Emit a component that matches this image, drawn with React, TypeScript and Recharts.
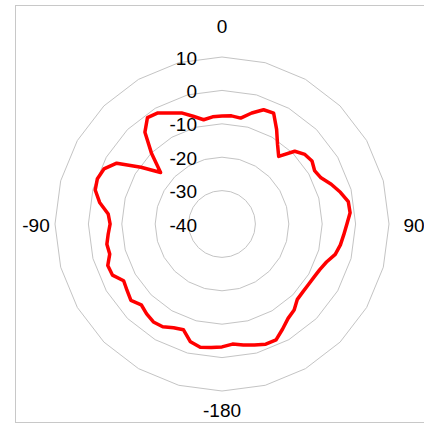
import React from 'react';
import { RadarChart, Radar, PolarGrid, PolarAngleAxis, PolarRadiusAxis } from 'recharts';

// measurement angles, clockwise from the top (deg)
const angles = [
  0, 5, 10, 15, 20, 25, 30, 35, 40, 45, 50, 55, 60, 65, 70, 75, 80, 85,
  90, 95, 100, 105, 110, 115, 120, 125, 130, 135, 140, 145, 150, 155, 160, 165, 170, 175,
  -180, -175, -170, -165, -160, -155, -150, -145, -140, -135, -130, -125, -120, -115, -110, -105, -100, -95,
  -90, -85, -80, -75, -70, -65, -60, -55, -50, -45, -40, -35, -30, -25, -20, -15, -10, -5,
];

// gain (dB), same order as angles
const gain = [
  -7.7, -7.5, -7.8, -5.6, -3.6, -3.4, -7.3, -11.0, -13.6, -9.2, -7.6, -7.1, -8.0, -7.3, -5.2, -3.3, -1.6, -1.5,
  -2.6, -3.4, -4.0, -4.9, -6.7, -7.7, -8.2, -8.4, -8.4, -8.1, -6.4, -5.5, -3.7, -1.7, -1.7, -2.5, -3.2, -3.9,
  -3.2, -2.9, -2.5, -3.5, -6.3, -5.7, -4.5, -4.2, -4.9, -5.8, -4.4, -5.3, -6.0, -3.8, -3.6, -5.2, -5.0, -5.8,
  -6.5, -5.8, -2.8, -0.7, -0.3, -1.0, -3.6, -10.4, -16.0, -10.2, -4.1, -1.1, -1.6, -3.3, -4.6, -6.6, -8.3, -7.8,
];

const radiusTicks = [-40, -30, -20, -10, 0, 10];
const angleLabels = [0, 90, -180, -90];

const data = angles.map((a, i) => ({ angle: a, gain: gain[i] }));

const CX = 222;
const CY = 224;
const FONT = '"Liberation Sans", Arial, sans-serif';
const FONT_SIZE = 19;

// 24-sided rings like the original
const gridAngles = Array.from({ length: 24 }, (_, i) => i * 15);

const AngleTick = (props: any) => {
  const { x, y, payload } = props;
  const v = payload.value;
  if (!angleLabels.includes(v)) return null;
  const dx = x - CX;
  const dy = y - CY;
  const d = Math.sqrt(dx * dx + dy * dy) || 1;
  // label distance from centre differs a bit per side in the original
  const dist = v === 0 ? 199 : v === -180 ? 185 : v === 90 ? 192 : 186;
  return (
    <text
      x={CX + (dx / d) * dist}
      y={CY + (dy / d) * dist + 1}
      textAnchor="middle"
      dominantBaseline="central"
      fontFamily={FONT}
      fontSize={FONT_SIZE}
      fill="#000"
    >
      {v}
    </text>
  );
};

const RadiusTick = (props: any) => {
  const { x, y, payload } = props;
  return (
    <text
      x={x - 25}
      y={y + 1}
      textAnchor="end"
      dominantBaseline="central"
      fontFamily={FONT}
      fontSize={FONT_SIZE}
      fill="#000"
    >
      {payload.value}
    </text>
  );
};

const App: React.FC = () => {
  return (
    <div style={{ position: 'absolute', left: 0, top: 0, width: 424, height: 424, background: '#fff', overflow: 'hidden' }}>
      <div
        style={{
          position: 'absolute',
          left: 15,
          top: 5,
          width: 420,
          height: 416,
          border: '1px solid #c8c8c8',
        }}
      />
      <div style={{ position: 'absolute', left: 0, top: 0 }}>
        <RadarChart
          width={424}
          height={424}
          data={data}
          cx={CX}
          cy={CY}
          innerRadius={0}
          outerRadius={167}
          startAngle={90}
          endAngle={-270}
          margin={{ top: 0, right: 0, bottom: 0, left: 0 }}
        >
          <PolarGrid gridType="polygon" radialLines={false} polarAngles={gridAngles} stroke="#c4c4c4" strokeWidth={1} />
          <PolarAngleAxis dataKey="angle" type="category" axisLine={false} tickLine={false} tick={AngleTick} />
          <PolarRadiusAxis
            angle={90}
            type="number"
            domain={[-40, 10]}
            ticks={radiusTicks}
            tickCount={6}
            axisLine={false}
            tickLine={false}
            tick={RadiusTick}
          />
          <Radar
            dataKey="gain"
            stroke="#ff0000"
            strokeWidth={3.5}
            strokeLinejoin="round"
            fill="none"
            fillOpacity={0}
            dot={false}
            isAnimationActive={false}
          />
        </RadarChart>
      </div>
    </div>
  );
};

export default App;
